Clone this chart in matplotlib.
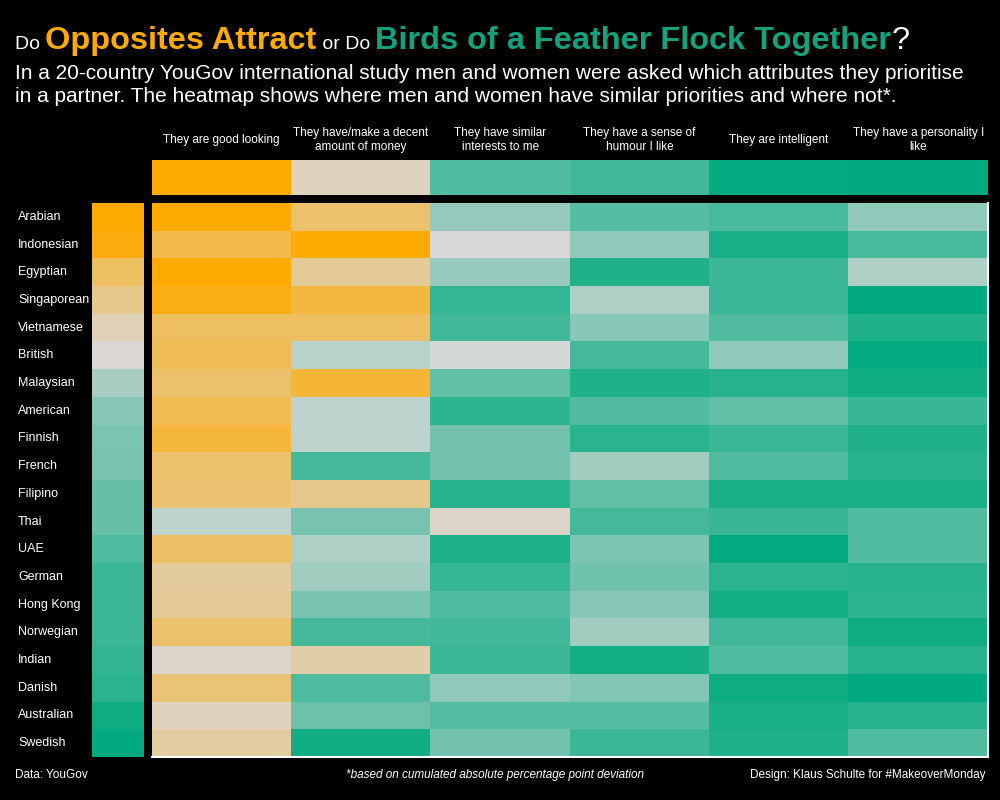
import numpy as np
import matplotlib
matplotlib.use("Agg")
import matplotlib.pyplot as plt
from matplotlib.colors import LinearSegmentedColormap

plt.rcParams['font.family'] = ['Liberation Sans', 'DejaVu Sans']

ORANGE = '#FFAA00'
GREEN = '#00AA7E'
TITLE_GREEN = '#13A17E'

attributes = ['They are good looking', 'They have/make a decent\namount of money',
              'They have similar\ninterests to me', 'They have a sense of\nhumour I like',
              'They are intelligent', 'They have a personality I\nlike']

countries = ['Arabian', 'Indonesian', 'Egyptian', 'Singaporean', 'Vietnamese', 'British',
             'Malaysian', 'American', 'Finnish', 'French', 'Filipino', 'Thai', 'UAE',
             'German', 'Hong Kong', 'Norwegian', 'Indian', 'Danish', 'Australian', 'Swedish']

# similarity score: -1 = men and women differ most (orange), +1 = most similar (green)
good_looking = [-1.00, -0.65, -1.00, -0.90, -0.55, -0.60, -0.50, -0.62, -0.72, -0.50,
                -0.48, 0.12, -0.53, -0.28, -0.30, -0.50, -0.08, -0.45, -0.12, -0.25]
money = [-0.50, -1.00, -0.30, -0.70, -0.55, 0.15, -0.75, 0.12, 0.12, 0.67,
         -0.35, 0.45, 0.20, 0.25, 0.45, 0.67, -0.22, 0.64, 0.50, 0.92]
similar_interests = [0.30, 0.00, 0.30, 0.75, 0.70, 0.03, 0.55, 0.78, 0.47, 0.47,
                     0.82, -0.08, 0.86, 0.75, 0.64, 0.70, 0.72, 0.33, 0.60, 0.47]
humour = [0.60, 0.33, 0.85, 0.20, 0.37, 0.68, 0.85, 0.62, 0.80, 0.25,
          0.55, 0.68, 0.42, 0.48, 0.37, 0.25, 0.90, 0.40, 0.60, 0.72]
intelligent = [0.65, 0.88, 0.72, 0.72, 0.62, 0.33, 0.82, 0.55, 0.72, 0.64,
               0.88, 0.73, 0.97, 0.80, 0.90, 0.70, 0.63, 0.93, 0.88, 0.85]
personality = [0.33, 0.65, 0.20, 1.00, 0.85, 0.98, 0.92, 0.74, 0.85, 0.82,
               0.88, 0.63, 0.64, 0.82, 0.78, 0.93, 0.82, 1.00, 0.82, 0.63]

# overall per country (left strip) and per attribute (top strip)
country_total = [-1.00, -0.93, -0.55, -0.35, -0.15, -0.03, 0.22, 0.38, 0.43, 0.45,
                 0.53, 0.53, 0.64, 0.72, 0.72, 0.72, 0.76, 0.80, 0.93, 1.00]
attribute_total = [-1.00, -0.12, 0.63, 0.70, 0.97, 1.00]

cmap = LinearSegmentedColormap.from_list('div', [(0, ORANGE), (0.5, '#D9D9D9'), (1, GREEN)])

W, H = 1000, 800
fig = plt.figure(figsize=(10, 8), dpi=100, facecolor='black')


def px_axes(x0, y0, x1, y1):
    return fig.add_axes([x0 / W, 1 - y1 / H, (x1 - x0) / W, (y1 - y0) / H])


grid = np.column_stack([good_looking, money, similar_interests, humour, intelligent, personality])
n_rows, n_cols = grid.shape

# main heatmap
ax = px_axes(152, 203, 988, 757)
ax.imshow(grid, cmap=cmap, vmin=-1, vmax=1, aspect='auto', interpolation='nearest')
ax.set_xticks([])
ax.set_yticks([])
for side in ['top', 'left']:
    ax.spines[side].set_visible(False)
for side in ['bottom', 'right']:
    ax.spines[side].set_color('white')
    ax.spines[side].set_linewidth(1.5)

# left strip
axl = px_axes(92, 203, 144, 757)
axl.imshow(np.array(country_total)[:, None], cmap=cmap, vmin=-1, vmax=1, aspect='auto')
axl.set_xticks([])
axl.set_yticks([])
for s in axl.spines.values():
    s.set_visible(False)
for i, c in enumerate(countries):
    fig.text(18 / W, 1 - (203 + (i + 0.5) * 554 / n_rows) / H, c, color='white',
             fontsize=9, ha='left', va='center')

# top strip
axt = px_axes(152, 160, 988, 195)
axt.imshow(np.array(attribute_total)[None, :], cmap=cmap, vmin=-1, vmax=1, aspect='auto')
axt.set_xticks([])
axt.set_yticks([])
for s in axt.spines.values():
    s.set_visible(False)
for j, a in enumerate(attributes):
    fig.text((152 + (j + 0.5) * 836 / n_cols) / W, 1 - 140 / H, a, color='white',
             fontsize=8.5, ha='center', va='center', linespacing=1.3)

# title built from pieces
renderer = fig.canvas.get_renderer()
pieces = [('Do ', 'white', 14, 'normal'),
          ('Opposites Attract', ORANGE, 23.4, 'bold'),
          (' or Do ', 'white', 14, 'normal'),
          ('Birds of a Feather Flock Together', TITLE_GREEN, 23.4, 'bold'),
          ('?', 'white', 23.4, 'normal')]
x = 15
for txt, col, size, weight in pieces:
    t = fig.text(x / W, 1 - 49 / H, txt, color=col, fontsize=size, fontweight=weight,
                 ha='left', va='baseline')
    bb = t.get_window_extent(renderer)
    x += bb.width

fig.text(15 / W, 1 - 79 / H,
         'In a 20-country YouGov international study men and women were asked which attributes they prioritise',
         color='white', fontsize=15, ha='left', va='baseline')
fig.text(15 / W, 1 - 102 / H,
         'in a partner. The heatmap shows where men and women have similar priorities and where not*.',
         color='white', fontsize=15, ha='left', va='baseline')

# footer
fig.text(15 / W, 1 - 775 / H, 'Data: YouGov', color='white', fontsize=8.5, ha='left', va='center')
fig.text(495 / W, 1 - 775 / H, '*based on cumulated absolute percentage point deviation',
         color='white', fontsize=8.5, style='italic', ha='center', va='center')
fig.text(985 / W, 1 - 775 / H, 'Design: Klaus Schulte for #MakeoverMonday', color='white',
         fontsize=8.5, ha='right', va='center')

fig.savefig('out.png', dpi=100, facecolor='black')
